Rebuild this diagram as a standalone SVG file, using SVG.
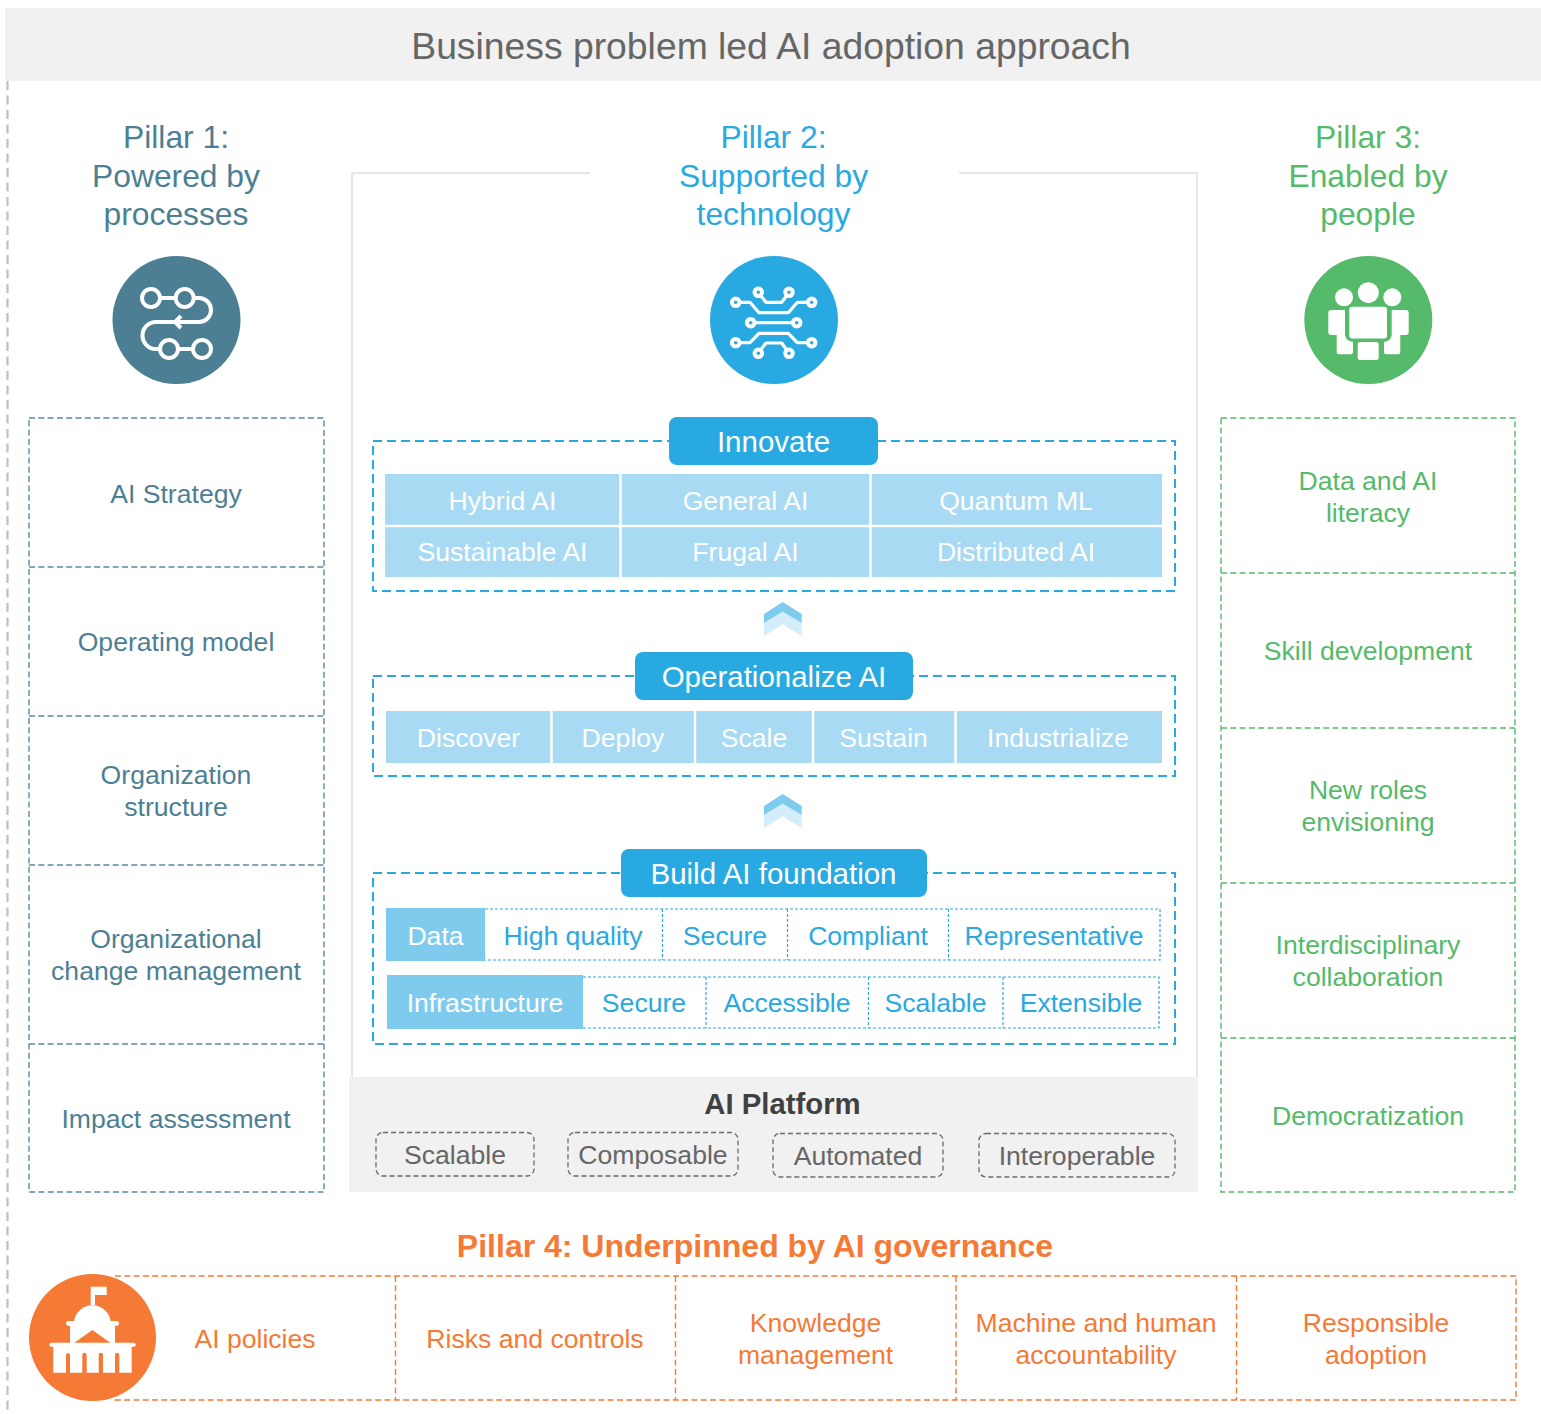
<svg xmlns="http://www.w3.org/2000/svg" width="1541" height="1414" viewBox="0 0 1541 1414">
<style>
text{font-family:"Liberation Sans",Arial,sans-serif;text-anchor:middle}
.t27{font-size:26.6px}
.p{font-size:31.8px}
.pill{font-size:29.5px}
.blue{fill:#29a9e1}.teal{fill:#4d7f94}.green{fill:#55ba6a}.orange{fill:#f47a36}.white{fill:#fff}.grey{fill:#666}
.lt{stroke:#5a8a9e;stroke-width:1.4;stroke-dasharray:6 3.300;fill:none}
.rt{stroke:#55ba6a;stroke-width:1.4;stroke-dasharray:6 3.300;fill:none}
.bt{stroke:#f47a36;stroke-width:1.4;stroke-dasharray:6 3.300;fill:none}
.dbox{stroke:#29a9e1;stroke-width:2;stroke-dasharray:9 5;fill:none}
.cell{stroke:#29a9e1;stroke-width:1.2;stroke-dasharray:3 2;fill:none}
.chip{stroke:#6a6a6a;stroke-width:1.3;stroke-dasharray:5 3;fill:none}
.ic{fill:none;stroke:#fff;stroke-width:4}
.ic2{fill:none;stroke:#fff;stroke-width:3.200}
</style>
<defs>
<g id="chev"><path d="M764 614L782.700 602L801.700 614V623.300L782.700 611.700L764 623.300Z" fill="#7fcbee"/><path d="M764 623.300L782.700 611.700L801.700 623.300V636L782.700 624.300L764 636Z" fill="#d4edfa"/></g>
</defs>
<g id="header"><rect x="5" y="8" width="1536" height="73" fill="#f1f1f1"/><text x="771" y="59" font-size="37.300" class="grey">Business problem led AI adoption approach</text></g>
<g id="connectors">
<path d="M7.500 81V1414" stroke="#bfbfbf" stroke-width="2.200" fill="none" stroke-dasharray="9 5.500"/>
<path d="M590 173H352V1077M959 173H1197V1077" stroke="#e6e6e6" stroke-width="2" fill="none"/>
<use href="#chev"/>
<use href="#chev" y="192"/>
</g>
<g id="pillar1">
<text x="176" y="148" class="p teal">Pillar 1:</text><text x="176" y="187" class="p teal">Powered by</text><text x="176" y="225" class="p teal">processes</text>
<circle cx="176.500" cy="320" r="64" fill="#4d7f94"/>
<g class="ic"><circle cx="151" cy="298" r="9"/><circle cx="184.700" cy="298" r="9"/><circle cx="169" cy="349" r="9"/><circle cx="202" cy="349" r="9"/><path d="M160 298H175.700M193.700 298H199A12 12 0 0 1 199 322H156A13.500 13.500 0 0 0 156 349H160M178 349H193M181 316L175 322L181 328"/></g>
</g>
<g id="pillar1-items">
<path class="lt" d="M29 418H324V1192H29ZM29 567H324M29 716H324M29 865H324M29 1044H324"/>
<text x="176" y="503" class="t27 teal">AI Strategy</text>
<text x="176" y="651" class="t27 teal">Operating model</text>
<text x="176" y="784" class="t27 teal">Organization</text><text x="176" y="816" class="t27 teal">structure</text>
<text x="176" y="948" class="t27 teal">Organizational</text><text x="176" y="980" class="t27 teal">change management</text>
<text x="176" y="1128" class="t27 teal">Impact assessment</text>
</g>
<g id="pillar2">
<text x="773.500" y="148" class="p blue">Pillar 2:</text><text x="773.500" y="187" class="p blue">Supported by</text><text x="773.500" y="225" class="p blue">technology</text>
<circle cx="774" cy="320" r="64" fill="#29a9e1"/>
<g class="ic2" stroke-linejoin="round"><g stroke-width="4"><circle cx="758.300" cy="292.300" r="3.800"/><circle cx="789" cy="292.300" r="3.800"/><circle cx="735.700" cy="302.300" r="3.800"/><circle cx="811.700" cy="302.300" r="3.800"/><circle cx="750.700" cy="322.700" r="3.800"/><circle cx="796.700" cy="322.700" r="3.800"/><circle cx="735.700" cy="342.700" r="3.800"/><circle cx="811.700" cy="342.700" r="3.800"/><circle cx="758.300" cy="353.300" r="3.800"/><circle cx="789" cy="353.300" r="3.800"/></g>
<path d="M760.500 295.500L766 302.300H781.700L786.800 295.500M739.500 302.300H750L759 312.700H788.300L797.300 302.300H808M754.500 322.700H793M739.500 342.700H750L759 333.300H788.300L797.300 342.700H808M760.500 350L766 343H781.700L786.800 350"/></g>
</g>
<g id="innovate">
<rect class="dbox" x="373" y="441" width="802" height="150"/>
<rect x="385" y="474" width="777" height="103" fill="#a8daf3"/>
<path d="M385 526H1162M620.500 474V577M870.500 474V577" stroke="#fff" stroke-width="2.500"/>
<rect x="669" y="417" width="209" height="48" rx="8" fill="#29a9e1"/><text x="773.500" y="452" class="pill white">Innovate</text>
<text x="502.500" y="510" class="t27 white">Hybrid AI</text><text x="745.500" y="510" class="t27 white">General AI</text><text x="1016" y="510" class="t27 white">Quantum ML</text>
<text x="502.500" y="561" class="t27 white">Sustainable AI</text><text x="745.500" y="561" class="t27 white">Frugal AI</text><text x="1016" y="561" class="t27 white">Distributed AI</text>
</g>
<g id="operationalize">
<rect class="dbox" x="373" y="676" width="802" height="100"/>
<rect x="386" y="711" width="776" height="52" fill="#a8daf3"/>
<path d="M551.500 711V763M695 711V763M813 711V763M955.500 711V763" stroke="#fff" stroke-width="2.500"/>
<rect x="635" y="652" width="278" height="48" rx="8" fill="#29a9e1"/><text x="774" y="687" class="pill white">Operationalize AI</text>
<text x="468.500" y="747" class="t27 white">Discover</text><text x="623" y="747" class="t27 white">Deploy</text><text x="754" y="747" class="t27 white">Scale</text><text x="883.500" y="747" class="t27 white">Sustain</text><text x="1058" y="747" class="t27 white">Industrialize</text>
</g>
<g id="foundation">
<rect class="dbox" x="373" y="873" width="802" height="171"/>
<rect x="621" y="849" width="306" height="48" rx="8" fill="#29a9e1"/><text x="773.500" y="884" class="pill white">Build AI foundation</text>
<path class="cell" d="M485 909H1160V960H485M662.500 909V960M787.500 909V960M948.500 909V960"/>
<rect x="386" y="908" width="99" height="53" fill="#7fcbee"/>
<text x="435.500" y="945" class="t27 white">Data</text><text x="573" y="945" class="t27 blue">High quality</text><text x="725" y="945" class="t27 blue">Secure</text><text x="868" y="945" class="t27 blue">Compliant</text><text x="1054" y="945" class="t27 blue">Representative</text>
<path class="cell" d="M583 977H1159V1028H583M706 977V1028M868.500 977V1028M1003 977V1028"/>
<rect x="387" y="975" width="196" height="54" fill="#7fcbee"/>
<text x="485" y="1012" class="t27 white">Infrastructure</text><text x="644" y="1012" class="t27 blue">Secure</text><text x="787" y="1012" class="t27 blue">Accessible</text><text x="935.500" y="1012" class="t27 blue">Scalable</text><text x="1081" y="1012" class="t27 blue">Extensible</text>
</g>
<g id="ai-platform">
<rect x="349" y="1077" width="849" height="115" fill="#f1f1f1"/>
<text x="782.500" y="1114" font-size="29.300" font-weight="700" fill="#404040">AI Platform</text>
<rect class="chip" x="376" y="1132.500" width="158" height="43.500" rx="7"/><text x="455" y="1164" class="t27 grey">Scalable</text>
<rect class="chip" x="568" y="1132.500" width="170" height="43.500" rx="7"/><text x="653" y="1164" class="t27 grey">Composable</text>
<rect class="chip" x="773" y="1133.500" width="170" height="43.500" rx="7"/><text x="858" y="1165" class="t27 grey">Automated</text>
<rect class="chip" x="979" y="1133.500" width="196" height="43.500" rx="7"/><text x="1077" y="1165" class="t27 grey">Interoperable</text>
</g>
<g id="pillar3">
<text x="1368" y="148" class="p green">Pillar 3:</text><text x="1368" y="187" class="p green">Enabled by</text><text x="1368" y="225" class="p green">people</text>
<circle cx="1368.300" cy="320" r="64" fill="#55ba6a"/>
<g fill="#fff"><circle cx="1368.300" cy="292.700" r="10.500"/><circle cx="1344" cy="297.300" r="9"/><circle cx="1392.300" cy="297.300" r="9"/>
<rect x="1349.300" y="306.700" width="37.700" height="31.700" rx="3"/>
<rect x="1357.700" y="342" width="21" height="18" rx="2.500"/>
<path d="M1331 310H1345V335Q1346 341 1353 342V352Q1353 354.300 1351 354.300H1339Q1336.700 354.300 1336.700 352V335H1331Q1328.300 335 1328.300 332V313Q1328.300 310 1331 310Z"/>
<path d="M1405.700 310H1391.700V335Q1390.700 341 1384 342V352Q1384 354.300 1386 354.300H1398Q1400.300 354.300 1400.300 352V335H1405.700Q1408.700 335 1408.700 332V313Q1408.700 310 1405.700 310Z"/></g>
</g>
<g id="pillar3-items">
<path class="rt" d="M1221 418H1515V1192H1221ZM1221 573H1515M1221 728H1515M1221 883H1515M1221 1038H1515"/>
<text x="1368" y="490" class="t27 green">Data and AI</text><text x="1368" y="522" class="t27 green">literacy</text>
<text x="1368" y="660" class="t27 green">Skill development</text>
<text x="1368" y="799" class="t27 green">New roles</text><text x="1368" y="831" class="t27 green">envisioning</text>
<text x="1368" y="954" class="t27 green">Interdisciplinary</text><text x="1368" y="986" class="t27 green">collaboration</text>
<text x="1368" y="1125" class="t27 green">Democratization</text>
</g>
<g id="pillar4">
<text x="755" y="1257" font-size="32" font-weight="700" class="orange">Pillar 4: Underpinned by AI governance</text>
<path class="bt" d="M115 1276H1516V1400H115ZM395.500 1276V1400M675.500 1276V1400M956 1276V1400M1236.500 1276V1400"/>
<text x="255" y="1348" class="t27 orange">AI policies</text>
<text x="535" y="1348" class="t27 orange">Risks and controls</text>
<text x="815.500" y="1332" class="t27 orange">Knowledge</text><text x="815.500" y="1364" class="t27 orange">management</text>
<text x="1096" y="1332" class="t27 orange">Machine and human</text><text x="1096" y="1364" class="t27 orange">accountability</text>
<text x="1376" y="1332" class="t27 orange">Responsible</text><text x="1376" y="1364" class="t27 orange">adoption</text>
<circle cx="92.500" cy="1337.500" r="63.500" fill="#f47a36"/>
<g fill="#fff"><path d="M90.700 1305V1286.700H106.700V1295H95V1305Z"/><path d="M74 1322A18.400 18 0 0 1 110.700 1322Z"/>
<rect x="66" y="1321" width="53" height="4.700" rx="2.300"/>
<path d="M70 1325H115V1343H110.700L92.300 1330L74 1343H70Z"/>
<rect x="49.300" y="1342.700" width="86.400" height="4" rx="2"/>
<path d="M53.300 1346H131.700V1372.700H119.300V1355A2.100 2.100 0 0 0 115 1355V1372.700H103V1355A2.100 2.100 0 0 0 98.700 1355V1372.700H86.700V1355A2.100 2.100 0 0 0 82.300 1355V1372.700H70V1355A2 2 0 0 0 66 1355V1372.700H53.300Z"/></g>
</g>
</svg>
